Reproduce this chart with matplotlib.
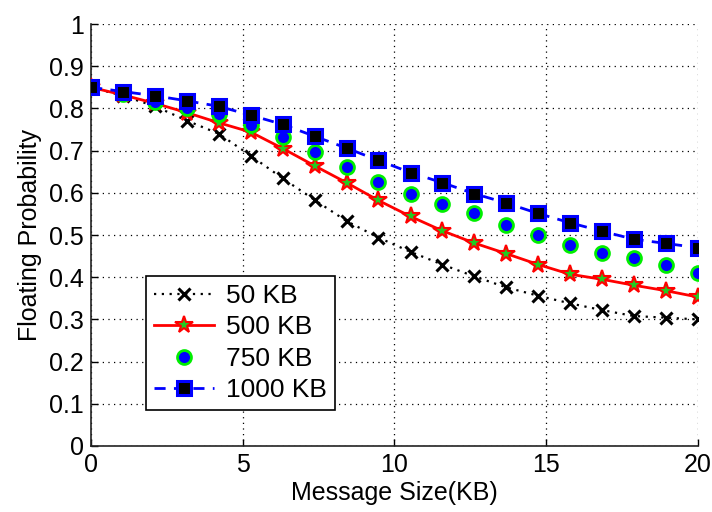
import matplotlib
matplotlib.use("Agg")
import matplotlib.pyplot as plt

plt.rcParams['font.family'] = ['Liberation Sans', 'DejaVu Sans']

# Message size (KB) at each sample
msg_size = [0, 1.05, 2.11, 3.16, 4.21, 5.26, 6.32, 7.37, 8.42, 9.47,
            10.53, 11.58, 12.63, 13.68, 14.74, 15.79, 16.84, 17.89, 18.95, 20]

# Floating probability per buffer size
kb50 = [0.85, 0.83, 0.805, 0.771, 0.740, 0.688, 0.634, 0.583, 0.533, 0.494,
        0.460, 0.430, 0.402, 0.376, 0.356, 0.338, 0.322, 0.308, 0.304, 0.300]
kb500 = [0.85, 0.832, 0.812, 0.790, 0.766, 0.744, 0.705, 0.664, 0.624, 0.582,
         0.544, 0.510, 0.481, 0.456, 0.430, 0.407, 0.395, 0.381, 0.368, 0.353]
kb750 = [0.85, 0.835, 0.815, 0.800, 0.786, 0.760, 0.732, 0.697, 0.661, 0.626,
         0.598, 0.573, 0.551, 0.524, 0.500, 0.476, 0.458, 0.446, 0.428, 0.410]
kb1000 = [0.85, 0.840, 0.830, 0.818, 0.805, 0.784, 0.762, 0.734, 0.706, 0.677,
          0.648, 0.624, 0.598, 0.576, 0.551, 0.529, 0.509, 0.490, 0.480, 0.470]

labels = ['50 KB', '500 KB', '750 KB', '1000 KB']
x_ticks = [0, 5, 10, 15, 20]
y_ticks = [0, 0.1, 0.2, 0.3, 0.4, 0.5, 0.6, 0.7, 0.8, 0.9, 1]
y_ticklabels = ['0', '0.1', '0.2', '0.3', '0.4', '0.5', '0.6', '0.7', '0.8', '0.9', '1']

fig = plt.figure(figsize=(7.12, 5.12), dpi=100)
ax = fig.add_axes([0.128, 0.129, 0.852, 0.824])

ax.plot(msg_size, kb50, color='black', linestyle=(0, (1, 2.5)), linewidth=1.6,
        marker='x', markersize=9, markeredgewidth=2.2, label=labels[0], zorder=3)
ax.plot(msg_size, kb500, color='red', linestyle='-', linewidth=2,
        marker='*', markersize=13, markerfacecolor='#22cc22', markeredgecolor='red',
        markeredgewidth=1.5, label=labels[1], zorder=4)
ax.plot(msg_size, kb750, linestyle='none',
        marker='o', markersize=10, markerfacecolor='blue', markeredgecolor='#00ee00',
        markeredgewidth=2, label=labels[2], zorder=5)
ax.plot(msg_size, kb1000, color='blue', linestyle=(0, (4, 3)), linewidth=2,
        marker='s', markersize=10, markerfacecolor='black', markeredgecolor='blue',
        markeredgewidth=2.2, label=labels[3], zorder=6)

ax.set_xlim(0, 20)
ax.set_ylim(0, 1)
ax.set_xticks(x_ticks)
ax.set_xticklabels([str(t) for t in x_ticks])
ax.set_yticks(y_ticks)
ax.set_yticklabels(y_ticklabels)

ax.grid(True, color='black', linestyle=(0, (1, 3.5)), linewidth=0.9)
ax.set_axisbelow(True)
for side in ('top', 'right'):
    ax.spines[side].set_visible(False)
for side in ('left', 'bottom'):
    ax.spines[side].set_linewidth(1.2)
    ax.spines[side].set_color('#222222')

ax.tick_params(direction='in', length=5, width=1, labelsize=18, pad=5)
ax.set_xlabel('Message Size(KB)', fontsize=18, labelpad=3)
ax.set_ylabel('Floating Probability', fontsize=18, labelpad=5)

leg = ax.legend(loc='lower left', bbox_to_anchor=(0.09, 0.085), fontsize=19,
                numpoints=1, handlelength=2.3, handletextpad=0.45,
                borderpad=0.3, labelspacing=0.28, borderaxespad=0,
                fancybox=False, framealpha=1, edgecolor='black')
leg.get_frame().set_linewidth(1.2)

fig.savefig('out.png', dpi=100)
